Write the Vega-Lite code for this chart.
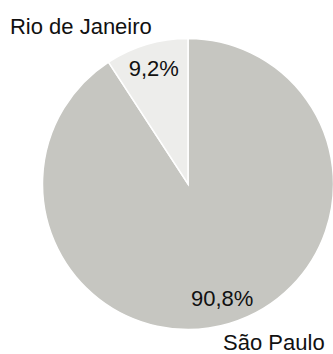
{
  "$schema": "https://vega.github.io/schema/vega-lite/v6.json",
  "autosize": {"type": "none"},
  "width": 291,
  "height": 291,
  "padding": {"left": 42.5, "top": 38.5, "right": 0, "bottom": 24.5},
  "background": "white",
  "data": {"values": [
    {"city": "São Paulo", "share": 90.8, "label": "90,8%", "order": 1},
    {"city": "Rio de Janeiro", "share": 9.2, "label": "9,2%", "order": 2}
  ]},
  "encoding": {
    "theta": {"field": "share", "type": "quantitative", "stack": true},
    "order": {"field": "order", "type": "quantitative"}
  },
  "layer": [
    {
      "mark": {"type": "arc", "stroke": "white", "strokeWidth": 1.5},
      "encoding": {
        "color": {"field": "city", "type": "nominal", "scale": {"domain": ["São Paulo", "Rio de Janeiro"], "range": ["#c6c6c1", "#ededeb"]}, "legend": null}
      }
    },
    {
      "mark": {"type": "text", "radius": 120, "font": "Liberation Sans", "fontSize": 22, "color": "#111111", "baseline": "middle", "align": "center"},
      "encoding": {"text": {"field": "label"}}
    },
    {
      "transform": [{"filter": "datum.city == 'Rio de Janeiro'"}],
      "mark": {"type": "text", "radius": 175, "dx": -157, "dy": 11, "font": "Liberation Sans", "fontSize": 22, "color": "#111111", "baseline": "middle", "align": "center"},
      "encoding": {"text": {"field": "city"}}
    },
    {
      "transform": [{"filter": "datum.city == 'São Paulo'"}],
      "mark": {"type": "text", "radius": 175, "dx": 36, "dy": -9, "font": "Liberation Sans", "fontSize": 22, "color": "#111111", "baseline": "middle", "align": "center"},
      "encoding": {"text": {"field": "city"}}
    }
  ]
}
